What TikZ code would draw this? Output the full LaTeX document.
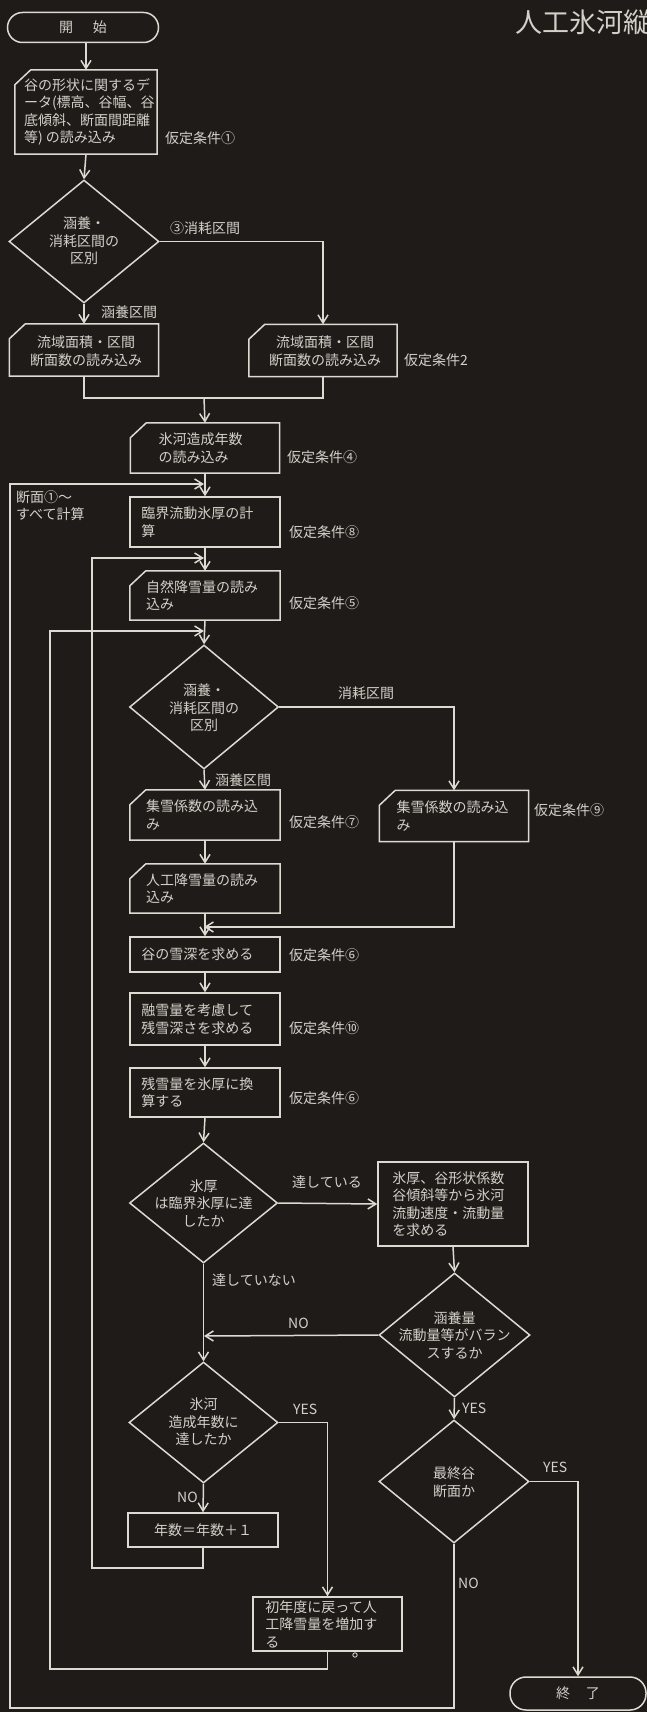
\documentclass[tikz,border=0pt]{standalone}
\usepackage{fontspec}
\newfontfamily\jp{Noto Sans CJK JP}
\usetikzlibrary{arrows.meta,shapes.geometric}
\definecolor{bg}{RGB}{31,27,25}
\definecolor{fg}{RGB}{222,218,210}
\definecolor{tx}{RGB}{212,208,200}
\newcommand\cutcorner[1]{\draw[ln] ([xshift=16pt]#1.north west) -- (#1.north east) -- (#1.south east) -- (#1.south west) -- ([yshift=-15pt]#1.north west) -- cycle;}
\begin{document}
\begin{tikzpicture}[x=1pt,y=-1pt,
  ln/.style={draw=fg,line width=1.5pt},
  arr/.style={draw=fg,line width=1.5pt,-{Straight Barb[length=8pt,width=10pt]}},
  box/.style={draw=fg,line width=1.5pt,rectangle,inner sep=0pt},
  mbox/.style={rectangle,inner sep=0pt},
  dia/.style={draw=fg,line width=1.5pt,diamond,inner sep=0pt},
  term/.style={draw=fg,line width=1.5pt,rectangle,rounded corners=15pt,inner sep=0pt,text=tx,font=\jp\fontsize{14}{17}\selectfont},
  t/.style={text=tx,font=\jp\fontsize{14}{17.5}\selectfont,inner sep=0pt,align=left},
  tc/.style={t,align=center},
]
\fill[bg] (0,0) rectangle (647,1712);
\useasboundingbox (0,0) rectangle (647,1712);

% title
\node[anchor=west,text=tx,font=\jp\fontsize{27}{27}\selectfont,inner sep=0pt] (title) at (515,22) {人工氷河縦};

% top column (x = 84)
\node[term,minimum width=151,minimum height=30] (start) at (83,27.5) {開\hspace{20pt}始};
\node[mbox,minimum width=142,minimum height=84] (b1) at (86,112) {};
\cutcorner{b1}
\node[t,anchor=west] (b1t) at ([xshift=9pt]b1.west) {谷の形状に関するデ\\ータ(標高、谷幅、谷\\底傾斜、断面間距離\\等) の読み込み};
\node[t,anchor=west] (k1) at (165,138) {仮定条件①};

\node[dia,minimum width=150,minimum height=123] (d1) at (84,241.5) {};
\node[tc] (d1t) at (84,241) {涵養・\\消耗区間の\\区別};
\node[t,anchor=west] (l1) at (170,228) {③消耗区間};
\node[t,anchor=west] (l2) at (101,312) {涵養区間};

\node[mbox,minimum width=149,minimum height=52] (b2) at (84,350) {};
\cutcorner{b2}
\node[tc] (b2t) at (86,351) {流域面積・区間\\断面数の読み込み};

\node[mbox,minimum width=148,minimum height=52] (b3) at (323,350.5) {};
\cutcorner{b3}
\node[tc] (b3t) at (325,351) {流域面積・区間\\断面数の読み込み};
\node[t,anchor=west] (k2) at (404,360) {仮定条件2};

% main column (x = 204)
\node[mbox,minimum width=149,minimum height=50] (b4) at (205,448) {};
\cutcorner{b4}
\node[t,anchor=west] (b4t) at ([xshift=28pt]b4.west) {氷河造成年数\\の読み込み};
\node[t,anchor=west] (k4) at (287,457) {仮定条件④};

\node[t,anchor=west] (s1) at (16,497) {断面①～};
\node[t,anchor=west] (s2) at (16,514) {すべて計算};

\node[box,minimum width=150,minimum height=50] (b5) at (205,522) {};
\node[t,anchor=west] (b5t) at ([xshift=12pt]b5.west) {臨界流動氷厚の計\\算};
\node[t,anchor=west] (k8) at (289,532) {仮定条件⑧};

\node[mbox,minimum width=150,minimum height=49] (b6) at (205,595.5) {};
\cutcorner{b6}
\node[t,anchor=west] (b6t) at ([xshift=16pt]b6.west) {自然降雪量の読み\\込み};
\node[t,anchor=west] (k5) at (289,603) {仮定条件⑤};

\node[dia,minimum width=149,minimum height=124] (d2) at (204,707) {};
\node[tc] (d2t) at (204,708) {涵養・\\消耗区間の\\区別};
\node[t,anchor=west] (l3) at (338,693) {消耗区間};
\node[t,anchor=west] (l4) at (215,780) {涵養区間};

\node[mbox,minimum width=150,minimum height=50] (b7) at (205,815) {};
\cutcorner{b7}
\node[t,anchor=west] (b7t) at ([xshift=16pt]b7.west) {集雪係数の読み込\\み};
\node[t,anchor=west] (k7) at (289,822) {仮定条件⑦};

\node[mbox,minimum width=149,minimum height=51] (b8) at (454,816) {};
\cutcorner{b8}
\node[t,anchor=west] (b8t) at ([xshift=17pt]b8.west) {集雪係数の読み込\\み};
\node[t,anchor=west] (k9) at (534,810) {仮定条件⑨};

\node[mbox,minimum width=150,minimum height=49] (b9) at (205,888.5) {};
\cutcorner{b9}
\node[t,anchor=west] (b9t) at ([xshift=16pt]b9.west) {人工降雪量の読み\\込み};

\node[box,minimum width=150,minimum height=35] (b10) at (205,954.5) {};
\node[t,anchor=west] (b10t) at ([xshift=12pt]b10.west) {谷の雪深を求める};
\node[t,anchor=west] (k6a) at (289,955) {仮定条件⑥};

\node[box,minimum width=150,minimum height=52] (b11) at (205,1019) {};
\node[t,anchor=west] (b11t) at ([xshift=12pt]b11.west) {融雪量を考慮して\\残雪深さを求める};
\node[t,anchor=west] (k10) at (289,1028) {仮定条件⑩};

\node[box,minimum width=150,minimum height=49] (b12) at (205,1092.5) {};
\node[t,anchor=west] (b12t) at ([xshift=12pt]b12.west) {残雪量を氷厚に換\\算する};
\node[t,anchor=west] (k6b) at (289,1098) {仮定条件⑥};

\node[dia,minimum width=148,minimum height=120] (d3) at (203.5,1203) {};
\node[tc] (d3t) at (203.5,1203) {氷厚\\は臨界氷厚に達\\したか};
\node[t,anchor=west] (l5) at (292,1182) {達している};
\node[t,anchor=west] (l6) at (212,1280) {達していない};

\node[box,minimum width=150,minimum height=84] (b13) at (453,1204) {};
\node[t,anchor=west] (b13t) at ([xshift=15pt]b13.west) {氷厚、谷形状係数\\谷傾斜等から氷河\\流動速度・流動量\\を求める};

\node[dia,minimum width=151,minimum height=124] (d4) at (454.5,1335) {};
\node[tc] (d4t) at (454.5,1335) {涵養量\\流動量等がバラン\\スするか};
\node[t,anchor=west] (l7) at (288,1323) {NO};

\node[dia,minimum width=149,minimum height=121] (d5) at (203.5,1422.5) {};
\node[tc] (d5t) at (203.5,1422) {氷河\\造成年数に\\達したか};
\node[t,anchor=west] (l8) at (293,1409) {YES};
\node[t,anchor=west] (l9) at (462,1408) {YES};
\node[t,anchor=west] (l10) at (177,1497) {NO};

\node[dia,minimum width=150,minimum height=123] (d6) at (454,1481.5) {};
\node[tc] (d6t) at (454,1482) {最終谷\\断面か};
\node[t,anchor=west] (l11) at (543,1467) {YES};
\node[t,anchor=west] (l12) at (458,1583) {NO};

\node[box,minimum width=150,minimum height=34] (b14) at (203,1530) {};
\node[tc] (b14t) at (203,1530) {年数＝年数＋１};

\node[box,minimum width=149,minimum height=54] (b15) at (327.5,1624) {};
\node[t,anchor=west] (b15t) at ([xshift=13pt]b15.west) {初年度に戻って人\\工降雪量を増加す\\る};
\draw[fg,line width=0.8pt] (355,1655) circle (2.2);

\node[term,minimum width=136,minimum height=33,rounded corners=16pt] (end) at (578,1693.5) {終\hspace{16pt}了};

% junction coordinates
\coordinate (m1) at (204,398);
\coordinate (j1) at (204,484);
\coordinate (j3) at (204,558);
\coordinate (j2) at (204,631);
\coordinate (j4) at (204,927);
\coordinate (j5) at (204,1336);
\coordinate (c1) at (10,1708);
\coordinate (c2) at (50,1669);
\coordinate (c3) at (92,1568);

% connectors
\draw[arr] (start.south -| b1.north) -- (b1.north);
\draw[arr] (b1.south) -- (d1.north);
\draw[arr] (d1.south) -- (b2.north);
\draw[arr] (d1.east) -| (b3.north);
\draw[ln] (b2.south) |- (m1);
\draw[ln] (b3.south) |- (m1);
\draw[arr] (m1) -- (b4.north);
\draw[arr] (b4.south) -- (b5.north);
\draw[arr] (b5.south) -- (b6.north);
\draw[arr] (b6.south) -- (d2.north);
\draw[arr] (d2.south) -- (b7.north);
\draw[arr] (d2.east) -| (b8.north);
\draw[arr] (b7.south) -- (b9.north);
\draw[arr] (b8.south) |- (j4);
\draw[arr] (b9.south) -- (b10.north);
\draw[arr] (b10.south) -- (b11.north);
\draw[arr] (b11.south) -- (b12.north);
\draw[arr] (b12.south) -- (d3.north);
\draw[arr] (d3.east) -- (b13.west);
\draw[arr] (b13.south) -- (d4.north);
\draw[arr] (d4.west) -- (j5);
\draw[arr] (d3.south) -- (d5.north);
\draw[arr] (d4.south) -- (d6.north);
\draw[arr] (d5.south) -- (b14.north);
\draw[arr] (d5.east) -| (b15.north);
\draw[arr] (d6.east) -| (end.north);
\draw[arr] (b14.south) |- (c3) |- (j3);
\draw[arr] (b15.south) |- (c2) |- (j2);
\draw[arr] (d6.south) |- (c1) |- (j1);
\end{tikzpicture}
\end{document}
